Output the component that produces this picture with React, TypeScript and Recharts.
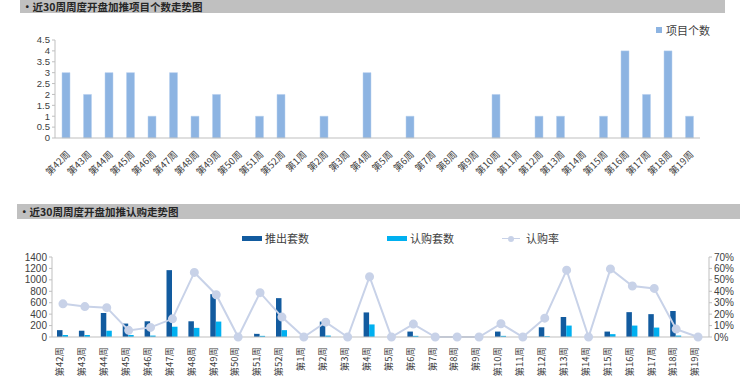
import { BarChart, Bar, ComposedChart, Line, XAxis, YAxis } from "recharts"

const FONT = '"Noto Sans CJK SC", "Noto Sans", sans-serif'
const NUM_FONT = '"Liberation Sans", Arial, sans-serif'

const weeks = [
  "第42周", "第43周", "第44周", "第45周", "第46周", "第47周", "第48周", "第49周", "第50周", "第51周",
  "第52周", "第1周", "第2周", "第3周", "第4周", "第5周", "第6周", "第7周", "第8周", "第9周",
  "第10周", "第11周", "第12周", "第13周", "第14周", "第15周", "第16周", "第17周", "第18周", "第19周",
]

const projectCounts = [3, 2, 3, 3, 1, 3, 1, 2, 0, 1, 2, 0, 1, 0, 3, 0, 1, 0, 0, 0, 2, 0, 1, 1, 0, 1, 4, 2, 4, 1]

const launched = [120, 110, 420, 235, 275, 1170, 275, 750, 0, 55, 680, 0, 270, 0, 430, 0, 95, 0, 0, 0, 95, 0, 170, 350, 0, 95, 435, 400, 455, 0]
const subscribed = [35, 35, 110, 35, 25, 180, 160, 270, 0, 20, 120, 0, 25, 0, 220, 0, 20, 0, 0, 0, 20, 0, 15, 200, 0, 50, 200, 165, 25, 0]
const subscribeRate = [0.29, 0.266, 0.257, 0.058, 0.084, 0.159, 0.565, 0.37, 0, 0.388, 0.174, 0, 0.13, 0, 0.527, 0, 0.113, 0, 0, 0, 0.116, 0, 0.165, 0.585, 0, 0.596, 0.446, 0.425, 0.069, 0]

const countTicks = [0, 0.5, 1, 1.5, 2, 2.5, 3, 3.5, 4, 4.5]
const unitTicks = [0, 200, 400, 600, 800, 1000, 1200, 1400]
const rateTicks = [0, 0.1, 0.2, 0.3, 0.4, 0.5, 0.6, 0.7]

const topData = weeks.map((w, i) => ({ week: w, count: projectCounts[i] }))
const bottomData = weeks.map((w, i) => ({
  week: w,
  launched: launched[i],
  subscribed: subscribed[i],
  rate: subscribeRate[i],
}))

// eslint-disable-next-line @typescript-eslint/no-explicit-any
const SlantTick = (props: any) => {
  const { x, y, payload } = props
  return (
    <text
      x={x + 5}
      y={y + 9}
      textAnchor="end"
      fontSize={9.5}
      fill="#404040"
      fontFamily={FONT}
      transform={`rotate(-45 ${x + 5} ${y + 9})`}
    >
      {payload.value}
    </text>
  )
}

// eslint-disable-next-line @typescript-eslint/no-explicit-any
const UpTick = (props: any) => {
  const { x, y, payload } = props
  return (
    <text
      x={x - 3}
      y={y + 2}
      dy="0.35em"
      textAnchor="end"
      fontSize={9.5}
      fill="#404040"
      fontFamily={FONT}
      transform={`rotate(-90 ${x - 3} ${y + 2})`}
    >
      {payload.value}
    </text>
  )
}

const legendText = { display: "flex", alignItems: "center", fontSize: 11, color: "#404040", fontFamily: FONT }

const titleStyle = {
  position: "absolute" as const,
  background: "#c0c0c0",
  color: "#262626",
  fontFamily: FONT,
  fontWeight: 700,
  fontSize: 10.5,
  lineHeight: "13px",
  paddingLeft: 2,
}

const axisTick = { fontSize: 10, fill: "#404040", fontFamily: NUM_FONT }
const countTick = { fontSize: 9.5, fill: "#404040", fontFamily: NUM_FONT }

export default function App() {
  return (
    <div style={{ position: "fixed", left: 0, top: 0, width: 740, height: 376, background: "#fff", overflow: "hidden" }}>
      <div style={{ ...titleStyle, left: 20, top: 0, width: 703, height: 13 }}>•近30周周度开盘加推项目个数走势图</div>
      <div style={{ ...titleStyle, left: 17, top: 204, width: 721, height: 15, lineHeight: "15px" }}>•近30周周度开盘加推认购走势图</div>

      <div style={{ position: "absolute", left: 0, top: 0 }}>
        <BarChart width={740} height={190} data={topData} margin={{ top: 40, right: 40, left: 0, bottom: 0 }} barSize={8}>
          <XAxis
            dataKey="week"
            interval={0}
            height={52}
            tickLine={false}
            axisLine={{ stroke: "#bfbfbf" }}
            tick={<SlantTick />}
          />
          <YAxis
            width={55}
            domain={[0, 4.5]}
            ticks={countTicks}
            interval={0}
            tickSize={3}
            axisLine={{ stroke: "#bfbfbf" }}
            tickLine={{ stroke: "#bfbfbf" }}
            tick={countTick}
          />
          <Bar dataKey="count" name="项目个数" fill="#8db4e2" stroke="#b8d0ee" strokeWidth={0.5} isAnimationActive={false} />
        </BarChart>
      </div>

      <div style={{ ...legendText, position: "absolute", left: 656, top: 22 }}>
        <span style={{ width: 6, height: 6, background: "#8db4e2", marginRight: 4 }} />
        项目个数
      </div>

      <div style={{ position: "absolute", left: 0, top: 225 }}>
        <ComposedChart width={740} height={151} data={bottomData} margin={{ top: 32, right: 0, left: 0, bottom: 0 }} barSize={5.5} barGap={0}>
          <XAxis
            dataKey="week"
            interval={0}
            height={39}
            tickLine={false}
            axisLine={{ stroke: "#bfbfbf" }}
            tick={<UpTick />}
          />
          <YAxis
            yAxisId="left"
            width={52}
            domain={[0, 1400]}
            ticks={unitTicks}
            interval={0}
            tickSize={3}
            axisLine={{ stroke: "#bfbfbf" }}
            tickLine={{ stroke: "#bfbfbf" }}
            tick={axisTick}
          />
          <YAxis
            yAxisId="right"
            orientation="right"
            width={31}
            domain={[0, 0.7]}
            ticks={rateTicks}
            interval={0}
            tickSize={3}
            axisLine={{ stroke: "#bfbfbf" }}
            tickLine={{ stroke: "#bfbfbf" }}
            tickFormatter={(v: number) => `${Math.round(v * 100)}%`}
            tick={axisTick}
          />
          <Bar yAxisId="left" dataKey="launched" name="推出套数" fill="#125b9f" isAnimationActive={false} />
          <Bar yAxisId="left" dataKey="subscribed" name="认购套数" fill="#00b0f0" isAnimationActive={false} />
          <Line
            yAxisId="right"
            dataKey="rate"
            name="认购率"
            stroke="#c8d2e8"
            strokeWidth={2}
            dot={{ r: 3.5, fill: "#c8d2e8", stroke: "#c8d2e8" }}
            isAnimationActive={false}
          />
        </ComposedChart>
      </div>

      <div style={{ ...legendText, position: "absolute", left: 242, top: 230 }}>
        <span style={{ width: 20, height: 5, background: "#125b9f", marginRight: 3 }} />
        <span style={{ marginRight: 78 }}>推出套数</span>
        <span style={{ width: 20, height: 5, background: "#00b0f0", marginRight: 3 }} />
        <span style={{ marginRight: 48 }}>认购套数</span>
        <span style={{ position: "relative", width: 18, height: 6, marginRight: 6 }}>
          <span style={{ position: "absolute", left: 0, top: 2.5, width: 18, height: 1.5, background: "#c8d2e8" }} />
          <span style={{ position: "absolute", left: 6, top: 0.5, width: 6, height: 6, borderRadius: 3, background: "#c8d2e8" }} />
        </span>
        认购率
      </div>
    </div>
  )
}
